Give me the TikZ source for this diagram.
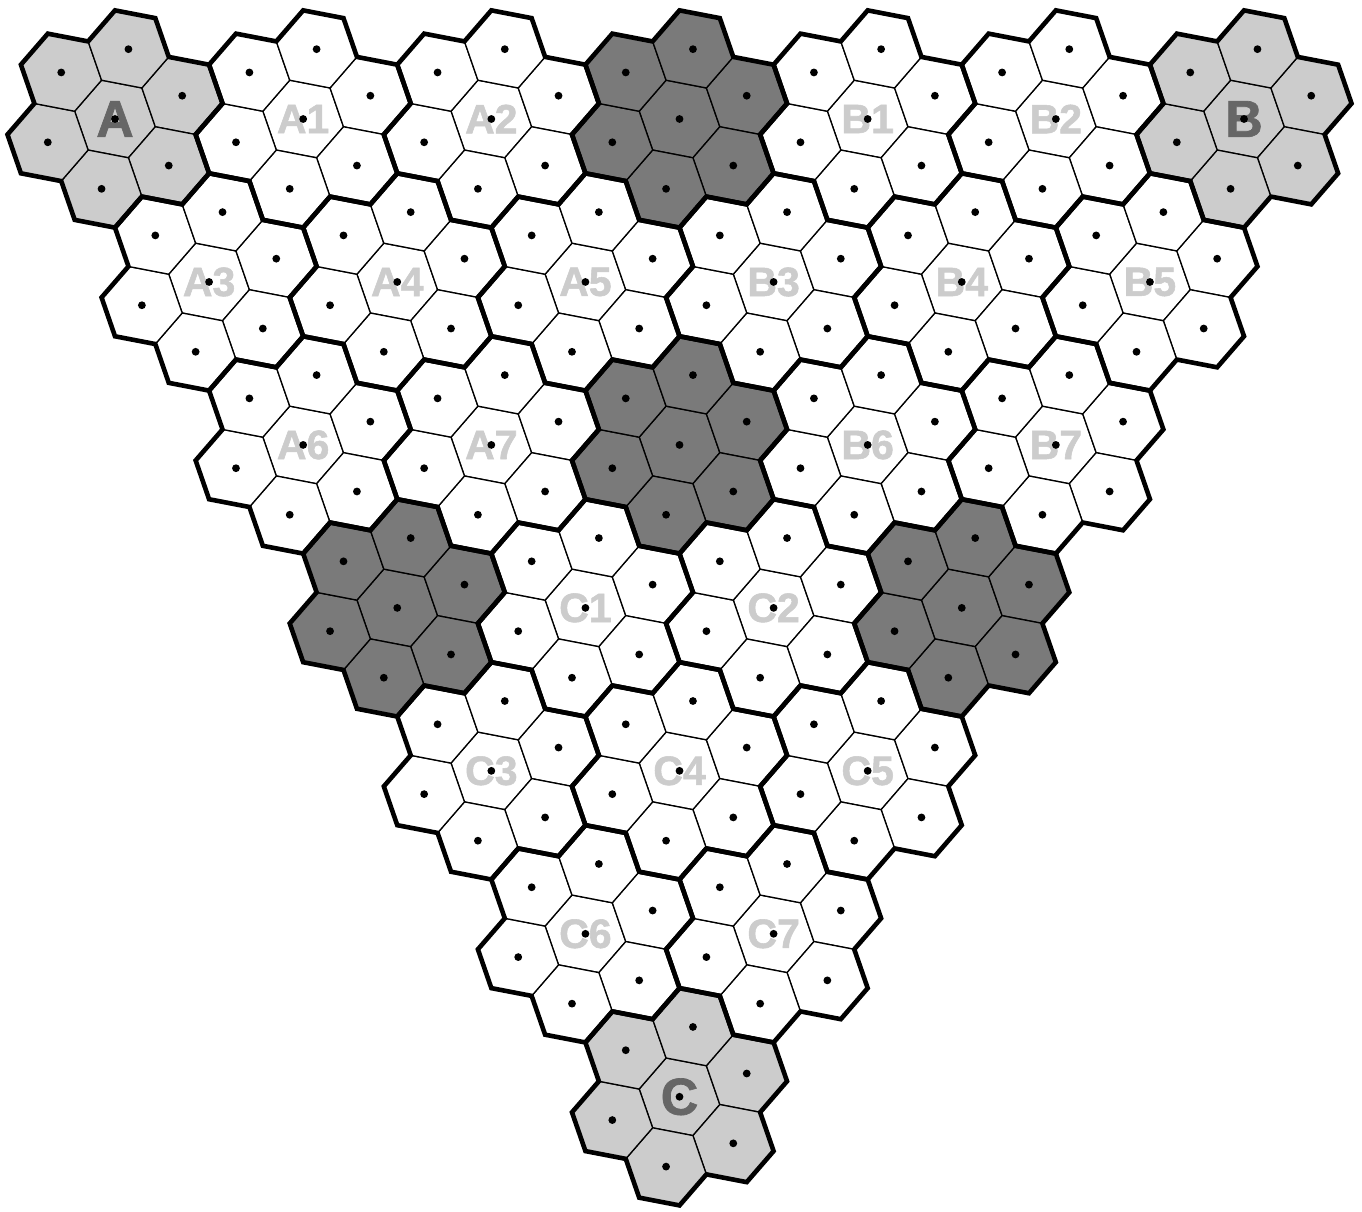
\documentclass[tikz,border=0pt]{standalone}
\usepackage{fontspec}
\setmainfont{Liberation Sans}
\newfontfamily\heavy[FakeBold=1.3]{Liberation Sans Bold}
\definecolor{lightc}{HTML}{CCCCCC}
\definecolor{darkc}{HTML}{7A7A7A}
\definecolor{bigtext}{HTML}{666666}
\definecolor{smalltext}{HTML}{CCCCCC}
\begin{document}
\begin{tikzpicture}[x=1pt,y=-1pt,
  hexcell/.style={draw=black,line width=1.3pt},
  clusteredge/.style={draw=black,line width=4.6pt,line join=miter},
  bigl/.style={font=\heavy\fontsize{52}{52}\selectfont,text=bigtext,inner sep=0pt},
  smalll/.style={font=\heavy\fontsize{41}{41}\selectfont,text=smalltext,inner sep=0pt},
  celldot/.style={fill=black}]
\useasboundingbox (0,0) rectangle (1362,1211);
\def\Ro{108.64}\def\Rt{82.12}\def\Rh{41.06}\def\dd{71.12}
\def\clusterlist{0/0/lightc,0/1/white,0/2/white,0/3/darkc,0/4/white,0/5/white,0/6/lightc,
1/0/white,1/1/white,1/2/white,1/3/white,1/4/white,1/5/white,
2/0/white,2/1/white,2/2/darkc,2/3/white,2/4/white,
3/0/darkc,3/1/white,3/2/white,3/3/darkc,
4/0/white,4/1/white,4/2/white,
5/0/white,5/1/white,
6/0/lightc}
\def\hexlist{0/0,\dd/-19.107,\dd/40.893,\dd/100.893,\dd/160.893,\dd/220.893,\dd/280.893}
% cells
\foreach \r/\k/\fc in \clusterlist {
  \pgfmathsetmacro\cx{115+188.17*\k+94.085*\r}
  \pgfmathsetmacro\cy{119+162.96*\r}
  \begin{scope}[shift={(\cx,\cy)}]
    \foreach \hr/\ha in \hexlist {
      \draw[hexcell,fill=\fc,shift={(\ha:\hr)}] (10.893:\Rh) -- (70.893:\Rh) -- (130.893:\Rh) -- (190.893:\Rh) -- (250.893:\Rh) -- (310.893:\Rh) -- cycle;
    }
  \end{scope}
}
% cluster outlines
\foreach \r/\k/\fc in \clusterlist {
  \pgfmathsetmacro\cx{115+188.17*\k+94.085*\r}
  \pgfmathsetmacro\cy{119+162.96*\r}
  \begin{scope}[shift={(\cx,\cy)}]
    \draw[clusteredge] (-30:\Ro) \foreach \m in {0,...,4}{ -- ({-8.214+60*\m}:\Ro) -- ({10.893+60*\m}:\Rt) -- ({30+60*\m}:\Ro)} -- (291.786:\Ro) -- (310.893:\Rt) -- cycle;
  \end{scope}
}
% labels
\foreach \r/\k/\t/\s in {0/0/A/bigl,0/1/A1/smalll,0/2/A2/smalll,0/4/B1/smalll,0/5/B2/smalll,0/6/B/bigl,
1/0/A3/smalll,1/1/A4/smalll,1/2/A5/smalll,1/3/B3/smalll,1/4/B4/smalll,1/5/B5/smalll,
2/0/A6/smalll,2/1/A7/smalll,2/3/B6/smalll,2/4/B7/smalll,
3/1/C1/smalll,3/2/C2/smalll,
4/0/C3/smalll,4/1/C4/smalll,4/2/C5/smalll,
5/0/C6/smalll,5/1/C7/smalll,
6/0/C/bigl} {
  \pgfmathsetmacro\cx{115+188.17*\k+94.085*\r}
  \pgfmathsetmacro\cy{119+162.96*\r}
  \node[\s] (L\t) at (\cx,\cy) {\t};
}
% dots
\foreach \r/\k/\fc in \clusterlist {
  \pgfmathsetmacro\cx{115+188.17*\k+94.085*\r}
  \pgfmathsetmacro\cy{119+162.96*\r}
  \begin{scope}[shift={(\cx,\cy)}]
    \foreach \hr/\ha in \hexlist {
      \fill[celldot] (\ha:\hr) circle[radius=3.9pt];
    }
  \end{scope}
}
\end{tikzpicture}
\end{document}
